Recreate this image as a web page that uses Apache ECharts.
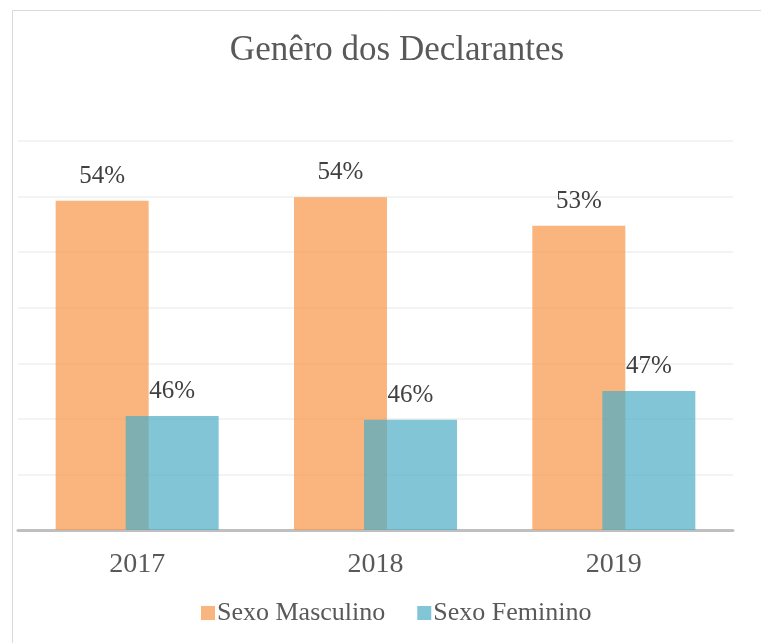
<!DOCTYPE html>
<html>
<head>
<meta charset="utf-8">
<script src="https://cdn.jsdelivr.net/npm/echarts@6/dist/echarts.min.js"></script>
<style>
html,body{margin:0;padding:0;background:#fff;}
#chart{width:761px;height:643px;}
</style>
</head>
<body>
<div id="chart"></div>
<script>
var categories = ['2017', '2018', '2019'];
var seriesNames = ['Sexo Masculino', 'Sexo Feminino'];
var masculino = [53.85, 53.98, 52.95];
var feminino = [46.10, 45.97, 47.00];
var yMin = 42, yMax = 56, yInterval = 2;

var FONT = '"Liberation Serif", "Times New Roman", serif';
var chart = echarts.init(document.getElementById('chart'));
var labelCfg = {
  show: true, position: 'top', distance: 12,
  fontFamily: FONT, fontSize: 25, color: '#404040',
  formatter: function (p) { return Math.round(p.value) + '%'; }
};
chart.setOption({
  animation: false,
  backgroundColor: '#fff',
  title: {
    text: 'Genêro dos Declarantes',
    left: 392, top: 28, textAlign: 'center',
    textStyle: { fontFamily: FONT, fontSize: 35, fontWeight: 'normal', color: '#595959' }
  },
  graphic: [{
    type: 'rect', silent: true, z: -1,
    shape: { x: 12.5, y: 10.5, width: 800, height: 700 },
    style: { fill: 'none', stroke: '#d9d9d9', lineWidth: 1 }
  }],
  legend: {
    data: seriesNames,
    left: 196, top: 595,
    itemWidth: 14, itemHeight: 14, itemGap: 32,
    icon: 'rect',
    textStyle: { fontFamily: FONT, fontSize: 26, color: '#595959', padding: [0, 0, 0, -3] }
  },
  grid: { left: 18, right: 28, top: 141, bottom: 113, containLabel: false },
  xAxis: {
    type: 'category', data: categories,
    axisLine: { show: true, lineStyle: { color: '#bfbfbf', width: 3 } },
    axisTick: { show: false },
    axisLabel: { fontFamily: FONT, fontSize: 28, color: '#595959', margin: 21 }
  },
  yAxis: {
    type: 'value', min: yMin, max: yMax, interval: yInterval,
    axisLine: { show: false }, axisTick: { show: false }, axisLabel: { show: false },
    splitLine: { lineStyle: { color: '#efefef', width: 1.5 } }
  },
  series: [
    {
      name: seriesNames[0], type: 'bar', data: masculino,
      barWidth: 93, barGap: '-24.7%',
      itemStyle: { color: 'rgba(247,150,70,0.7)' },
      label: labelCfg
    },
    {
      name: seriesNames[1], type: 'bar', data: feminino,
      barWidth: 93,
      itemStyle: { color: 'rgba(75,172,198,0.7)' },
      label: labelCfg
    }
  ]
});
</script>
</body>
</html>
